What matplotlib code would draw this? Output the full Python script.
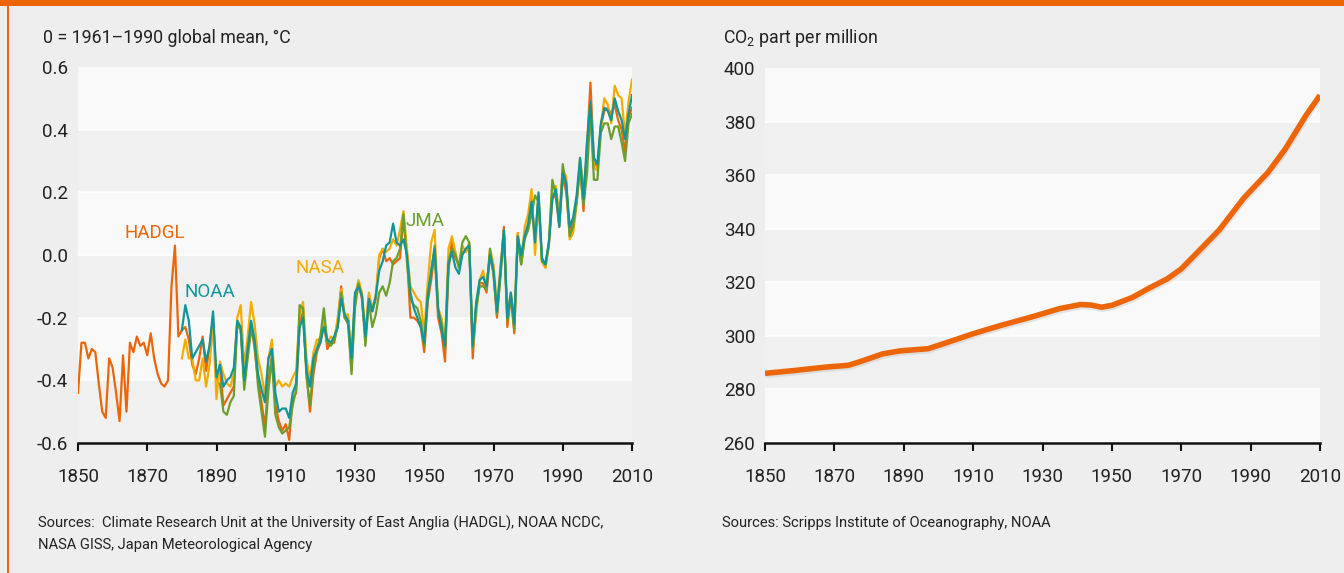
import matplotlib.pyplot as plt
import matplotlib.patheffects as pe
from matplotlib.patches import Rectangle

plt.rcParams['font.family'] = ['Roboto', 'DejaVu Sans']
plt.rcParams['mathtext.fontset'] = 'custom'
plt.rcParams['mathtext.rm'] = 'Roboto'

# Temperature anomaly, 0 = 1961-1990 global mean
hadgl_start = 1850
hadgl = [-0.44, -0.28, -0.28, -0.33, -0.30, -0.31, -0.41, -0.50, -0.52, -0.33,
         -0.36, -0.44, -0.53, -0.32, -0.50, -0.28, -0.31, -0.26, -0.29, -0.28,
         -0.32, -0.25, -0.33, -0.38, -0.41, -0.42, -0.40, -0.10, 0.03, -0.26,
         -0.24, -0.23, -0.27, -0.35, -0.38, -0.33, -0.26, -0.37, -0.29, -0.20,
         -0.40, -0.36, -0.48, -0.46, -0.44, -0.42, -0.21, -0.24, -0.40, -0.30,
         -0.22, -0.30, -0.40, -0.47, -0.55, -0.40, -0.32, -0.48, -0.53, -0.56,
         -0.54, -0.59, -0.46, -0.44, -0.22, -0.18, -0.38, -0.50, -0.38, -0.31,
         -0.28, -0.21, -0.30, -0.28, -0.28, -0.22, -0.10, -0.20, -0.20, -0.37,
         -0.14, -0.09, -0.14, -0.26, -0.13, -0.18, -0.14, -0.01, 0.02, -0.02,
         -0.01, -0.03, -0.02, -0.01, 0.12, 0.00, -0.20, -0.20, -0.21, -0.23,
         -0.31, -0.15, -0.08, 0.01, -0.20, -0.25, -0.34, -0.05, 0.05, -0.01,
         -0.03, 0.01, 0.01, 0.03, -0.33, -0.16, -0.09, -0.09, -0.12, 0.00,
         -0.06, -0.20, -0.06, 0.09, -0.23, -0.13, -0.25, 0.07, -0.03, 0.06,
         0.09, 0.17, 0.05, 0.19, -0.02, -0.04, 0.03, 0.18, 0.19, 0.10,
         0.25, 0.20, 0.07, 0.11, 0.17, 0.28, 0.14, 0.35, 0.55, 0.30,
         0.28, 0.41, 0.46, 0.47, 0.45, 0.48, 0.43, 0.40, 0.33, 0.44,
         0.47]

noaa_start = 1880
noaa = [-0.24, -0.16, -0.21, -0.33, -0.31, -0.29, -0.27, -0.34, -0.29, -0.18,
        -0.39, -0.35, -0.42, -0.40, -0.39, -0.36, -0.21, -0.23, -0.40, -0.30,
        -0.21, -0.27, -0.38, -0.43, -0.47, -0.33, -0.30, -0.44, -0.50, -0.49,
        -0.49, -0.52, -0.44, -0.41, -0.23, -0.20, -0.37, -0.42, -0.33, -0.30,
        -0.28, -0.23, -0.27, -0.28, -0.26, -0.23, -0.14, -0.19, -0.21, -0.33,
        -0.12, -0.10, -0.13, -0.26, -0.14, -0.18, -0.13, -0.05, -0.02, 0.03,
        0.04, 0.10, 0.04, 0.03, 0.05, 0.00, -0.12, -0.17, -0.20, -0.23,
        -0.28, -0.14, -0.05, 0.02, -0.17, -0.24, -0.29, -0.03, 0.01, -0.04,
        -0.06, 0.00, 0.02, 0.03, -0.29, -0.15, -0.08, -0.07, -0.10, 0.00,
        -0.05, -0.18, -0.05, 0.08, -0.20, -0.12, -0.22, 0.06, 0.00, 0.06,
        0.10, 0.17, 0.04, 0.20, -0.01, -0.03, 0.04, 0.18, 0.21, 0.09,
        0.26, 0.23, 0.09, 0.12, 0.19, 0.31, 0.18, 0.36, 0.49, 0.31,
        0.29, 0.42, 0.47, 0.46, 0.43, 0.50, 0.46, 0.43, 0.37, 0.45,
        0.51]

nasa_start = 1880
nasa = [-0.33, -0.27, -0.33, -0.33, -0.40, -0.40, -0.33, -0.42, -0.35, -0.22,
        -0.46, -0.34, -0.38, -0.41, -0.42, -0.38, -0.20, -0.16, -0.36, -0.26,
        -0.15, -0.22, -0.33, -0.38, -0.45, -0.33, -0.27, -0.42, -0.40, -0.42,
        -0.41, -0.42, -0.39, -0.37, -0.19, -0.15, -0.33, -0.40, -0.31, -0.27,
        -0.27, -0.20, -0.28, -0.26, -0.27, -0.20, -0.11, -0.19, -0.19, -0.32,
        -0.13, -0.08, -0.12, -0.25, -0.12, -0.17, -0.13, 0.00, 0.02, 0.01,
        0.02, 0.05, 0.03, 0.08, 0.14, 0.02, -0.10, -0.12, -0.14, -0.15,
        -0.25, -0.09, 0.04, 0.08, -0.17, -0.20, -0.28, 0.02, 0.06, 0.01,
        -0.04, 0.03, 0.01, 0.04, -0.30, -0.19, -0.08, -0.05, -0.11, 0.02,
        -0.03, -0.16, -0.04, 0.08, -0.19, -0.12, -0.21, 0.07, -0.02, 0.09,
        0.13, 0.21, 0.00, 0.19, -0.02, -0.04, 0.04, 0.22, 0.22, 0.13,
        0.27, 0.25, 0.05, 0.07, 0.16, 0.31, 0.21, 0.31, 0.49, 0.28,
        0.27, 0.41, 0.50, 0.48, 0.42, 0.54, 0.51, 0.50, 0.38, 0.49,
        0.56]

jma_start = 1891
jma = [-0.41, -0.50, -0.51, -0.47, -0.45, -0.22, -0.24, -0.43, -0.33,
       -0.24, -0.28, -0.42, -0.50, -0.58, -0.43, -0.33, -0.51, -0.55, -0.57,
       -0.56, -0.55, -0.48, -0.43, -0.16, -0.17, -0.39, -0.48, -0.36, -0.30,
       -0.26, -0.17, -0.28, -0.29, -0.27, -0.23, -0.12, -0.20, -0.22, -0.38,
       -0.17, -0.09, -0.13, -0.29, -0.15, -0.23, -0.19, -0.12, -0.10, -0.13,
       -0.09, -0.02, -0.01, 0.02, 0.13, -0.02, -0.14, -0.16, -0.17, -0.21,
       -0.29, -0.12, -0.06, 0.03, -0.18, -0.22, -0.30, -0.02, 0.02, 0.00,
       -0.04, 0.04, 0.06, 0.04, -0.30, -0.17, -0.10, -0.10, -0.11, 0.02,
       -0.06, -0.19, -0.07, 0.07, -0.21, -0.13, -0.24, 0.05, -0.03, 0.05,
       0.08, 0.13, 0.19, 0.17, -0.02, -0.03, 0.04, 0.24, 0.19, 0.09,
       0.29, 0.22, 0.06, 0.09, 0.17, 0.28, 0.16, 0.26, 0.46, 0.24,
       0.24, 0.39, 0.42, 0.42, 0.37, 0.41, 0.41, 0.36, 0.30, 0.42,
       0.45]

# CO2 concentration, ppm
co2_years = [1850, 1858, 1868, 1874, 1877, 1884, 1889, 1897, 1902, 1910,
             1918, 1927, 1935, 1941, 1944, 1947, 1950, 1956, 1961, 1966,
             1970, 1975, 1981, 1988, 1995, 2000, 2006, 2010]
co2_ppm = [286.0, 287.0, 288.4, 289.0, 290.2, 293.3, 294.4, 295.2, 297.3, 300.8,
           303.9, 307.1, 310.2, 311.7, 311.5, 310.7, 311.4, 314.4, 318.0, 321.3,
           325.0, 331.6, 339.6, 351.4, 361.0, 369.8, 382.4, 389.8]

year_ticks = [1850, 1870, 1890, 1910, 1930, 1950, 1970, 1990, 2010]
temp_ticks = [-0.6, -0.4, -0.2, 0.0, 0.2, 0.4, 0.6]
temp_labels = ['-0.6', '-0.4', '-0.2', '0.0', '0.2', '0.4', '0.6']
co2_ticks = [260, 280, 300, 320, 340, 360, 380, 400]

ORANGE = '#ec6608'
TEAL = '#10969a'
YELLOW = '#f4ac00'
GREEN = '#6c9e2c'
TEXT = '#222222'
BG = '#eeeeee'
LIGHT = '#f9f9f9'
DARK = '#f0f0f0'

fig = plt.figure(figsize=(13.44, 5.73), dpi=100, facecolor=BG)

# orange frame pieces
fig.patches.append(Rectangle((0, 1 - 6 / 573), 1, 6 / 573, transform=fig.transFigure,
                             facecolor=ORANGE, edgecolor='none'))
fig.patches.append(Rectangle((7 / 1344, 0), 2 / 1344, 1 - 6 / 573, transform=fig.transFigure,
                             facecolor=ORANGE, edgecolor='none'))

ax1 = fig.add_axes([78 / 1344, 130 / 573, 554 / 1344, 376 / 573])
ax2 = fig.add_axes([765 / 1344, 130 / 573, 555 / 1344, 375 / 573])


def style_axes(ax, ticks, labels, ymin, ymax, first_light):
    ax.set_facecolor(BG)
    for i in range(len(ticks) - 1):
        light = (i % 2 == 0) == first_light
        ax.axhspan(ticks[i], ticks[i + 1], color=LIGHT if light else DARK, lw=0, zorder=0)
    for t in ticks[1:-1]:
        ax.axhline(t, color='white', lw=1.2, zorder=0.5)
    ax.set_ylim(ymin, ymax)
    ax.set_xlim(1850, 2010)
    for s in ['top', 'right', 'left']:
        ax.spines[s].set_visible(False)
    ax.spines['bottom'].set_linewidth(1.8)
    ax.spines['bottom'].set_color('#111111')
    ax.set_xticks(year_ticks)
    ax.set_xticklabels([str(y) for y in year_ticks])
    ax.set_yticks(ticks)
    ax.set_yticklabels(labels)
    ax.tick_params(axis='x', length=6, width=1.5, color='#111111', pad=12,
                   labelsize=13.5, labelcolor=TEXT)
    ax.tick_params(axis='y', length=0, pad=7, labelsize=13.5, labelcolor=TEXT)


style_axes(ax1, temp_ticks, temp_labels, -0.6, 0.6, first_light=False)
style_axes(ax2, co2_ticks, [str(t) for t in co2_ticks], 260, 400, first_light=True)

ax1.plot(range(hadgl_start, hadgl_start + len(hadgl)), hadgl, color=ORANGE, lw=1.6, zorder=3)
ax1.plot(range(nasa_start, nasa_start + len(nasa)), nasa, color=YELLOW, lw=1.6, zorder=3)
ax1.plot(range(jma_start, jma_start + len(jma)), jma, color=GREEN, lw=1.6, zorder=3)
ax1.plot(range(noaa_start, noaa_start + len(noaa)), noaa, color=TEAL, lw=1.6, zorder=4)

ax1.text(1872.2, 0.07, 'HADGL', color=ORANGE, fontsize=13.5, ha='center', va='center')
ax1.text(1888.1, -0.118, 'NOAA', color=TEAL, fontsize=13.5, ha='center', va='center')
ax1.text(1919.9, -0.041, 'NASA', color=YELLOW, fontsize=13.5, ha='center', va='center')
ax1.text(1950.2, 0.108, 'JMA', color=GREEN, fontsize=13.5, ha='center', va='center')

ax2.plot(co2_years, co2_ppm, color=ORANGE, lw=4, solid_capstyle='butt',
         solid_joinstyle='round', zorder=3,
         path_effects=[pe.SimpleLineShadow(offset=(0.5, -1.5), shadow_color='#bbbbbb', alpha=0.35),
                       pe.Normal()])

fig.text(43 / 1344, 1 - 38 / 573, '0 = 1961\u20131990 global mean, \u00b0C', fontsize=12.8,
         color=TEXT, va='center', ha='left')
fig.text(723 / 1344, 1 - 38 / 573, r'CO$_\mathregular{2}$ part per million', fontsize=12.8,
         color=TEXT, va='center', ha='left')

fig.text(38 / 1344, 1 - 523 / 573,
         'Sources:  Climate Research Unit at the University of East Anglia (HADGL), NOAA NCDC,',
         fontsize=10.6, color=TEXT, va='center', ha='left')
fig.text(38 / 1344, 1 - 545 / 573, 'NASA GISS, Japan Meteorological Agency',
         fontsize=10.6, color=TEXT, va='center', ha='left')
fig.text(722 / 1344, 1 - 523 / 573, 'Sources: Scripps Institute of Oceanography, NOAA',
         fontsize=10.6, color=TEXT, va='center', ha='left')

fig.savefig('out.png', dpi=100, facecolor=BG)
